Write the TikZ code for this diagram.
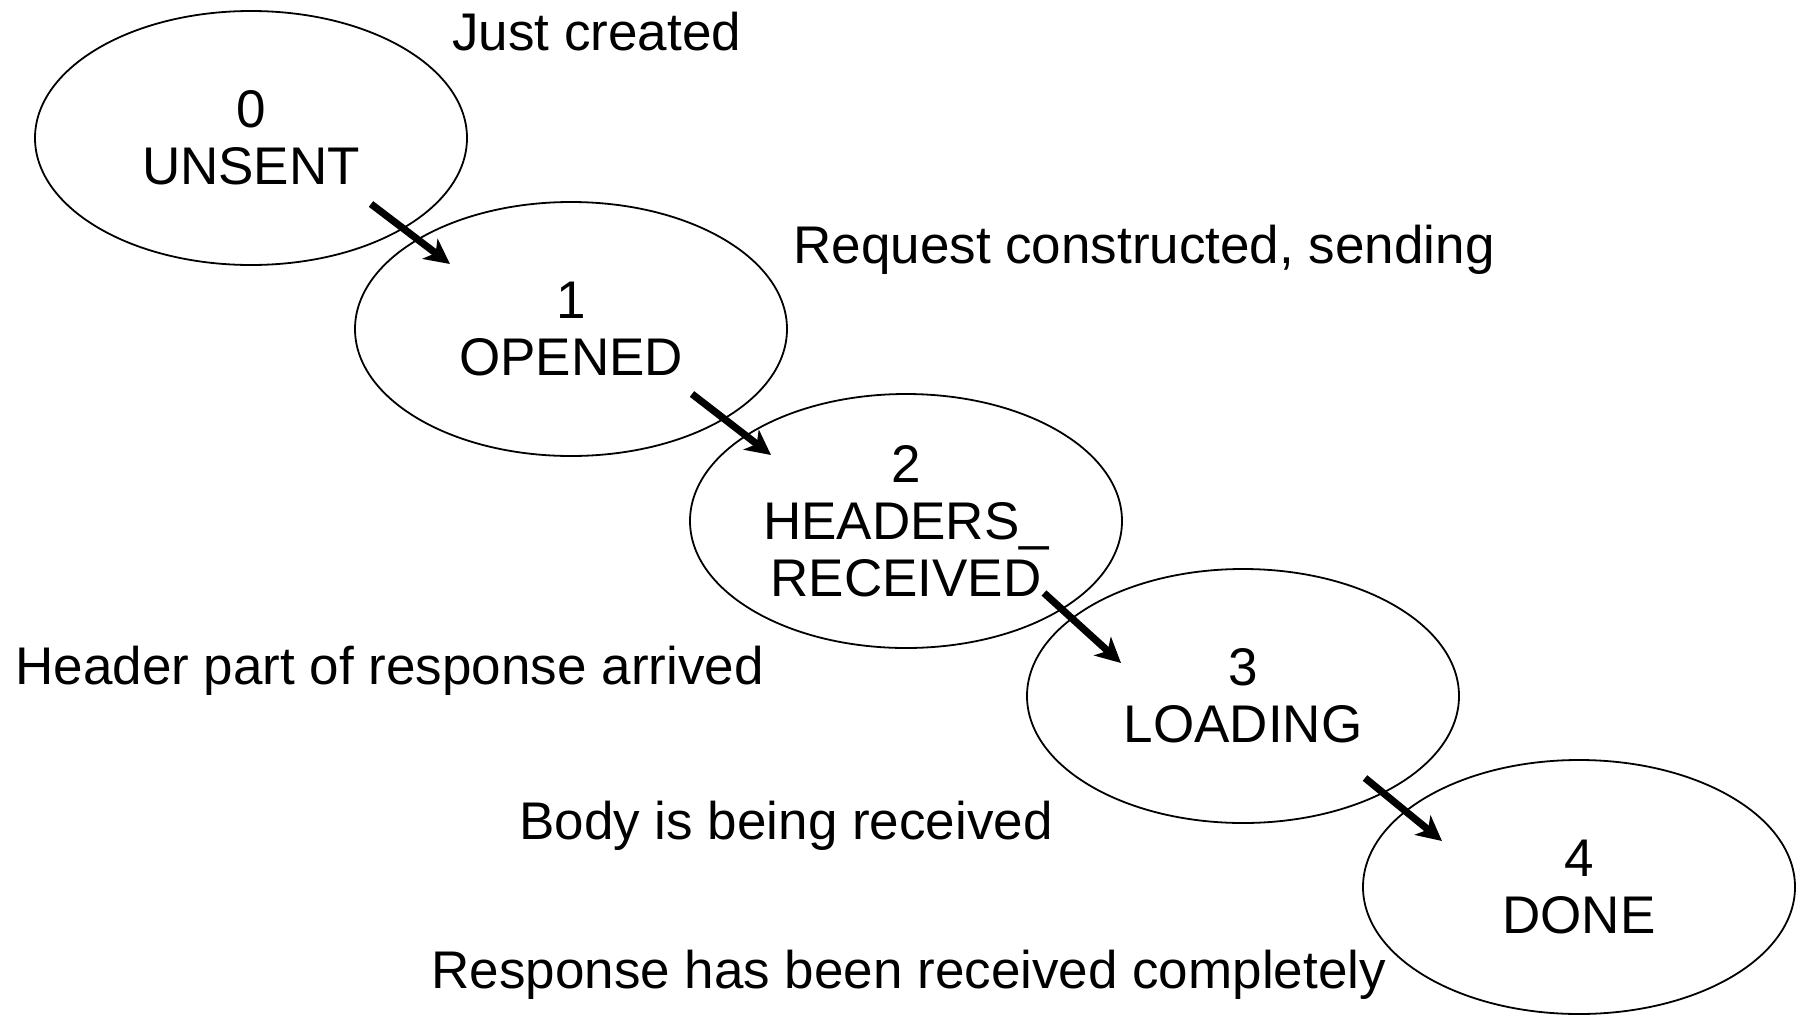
\documentclass[tikz,border=0pt]{standalone}
\usepackage{fontspec}
\setmainfont{Liberation Sans}
\usetikzlibrary{shapes.geometric, arrows.meta}

\begin{document}
\begin{tikzpicture}[x=0.5pt, y=-0.5pt,
    every node/.style={font=\fontsize{26.5}{28.5}\selectfont, inner sep=0pt},
    state/.style={ellipse, draw, line width=0.9pt, minimum width=216pt, minimum height=127pt, align=center},
    note/.style={anchor=base west},
    flow/.style={line width=3.6pt, -{Stealth[length=12.5pt, width=12.5pt, inset=3.5pt]}}]
    \useasboundingbox (0,0) rectangle (1799,1017);

    \node[state] (s0) at (251,138) {0\\UNSENT};
    \node[state] (s1) at (571,329) {1\\OPENED};
    \node[state] (s2) at (906,521) {2\\HEADERS\_\\RECEIVED};
    \node[state] (s3) at (1243,696) {3\\LOADING};
    \node[state] (s4) at (1579,887) {4\\DONE};

    \node[note] (n0) at (452,50) {Just created};
    \node[note] (n1) at (793,263) {Request constructed, sending};
    \node[note] (n2) at (15,684) {Header part of response arrived};
    \node[note] (n3) at (519,839) {Body is being received};
    \node[note] (n4) at (431,988) {Response has been received completely};

    \draw[flow] ([shift={(120,66)}]s0.center) -- ([shift={(-121,-65)}]s1.center);
    \draw[flow] ([shift={(121,65)}]s1.center) -- ([shift={(-135,-66)}]s2.center);
    \draw[flow] ([shift={(138,72)}]s2.center) -- ([shift={(-122,-33)}]s3.center);
    \draw[flow] ([shift={(122,82)}]s3.center) -- ([shift={(-137,-46)}]s4.center);
\end{tikzpicture}
\end{document}
